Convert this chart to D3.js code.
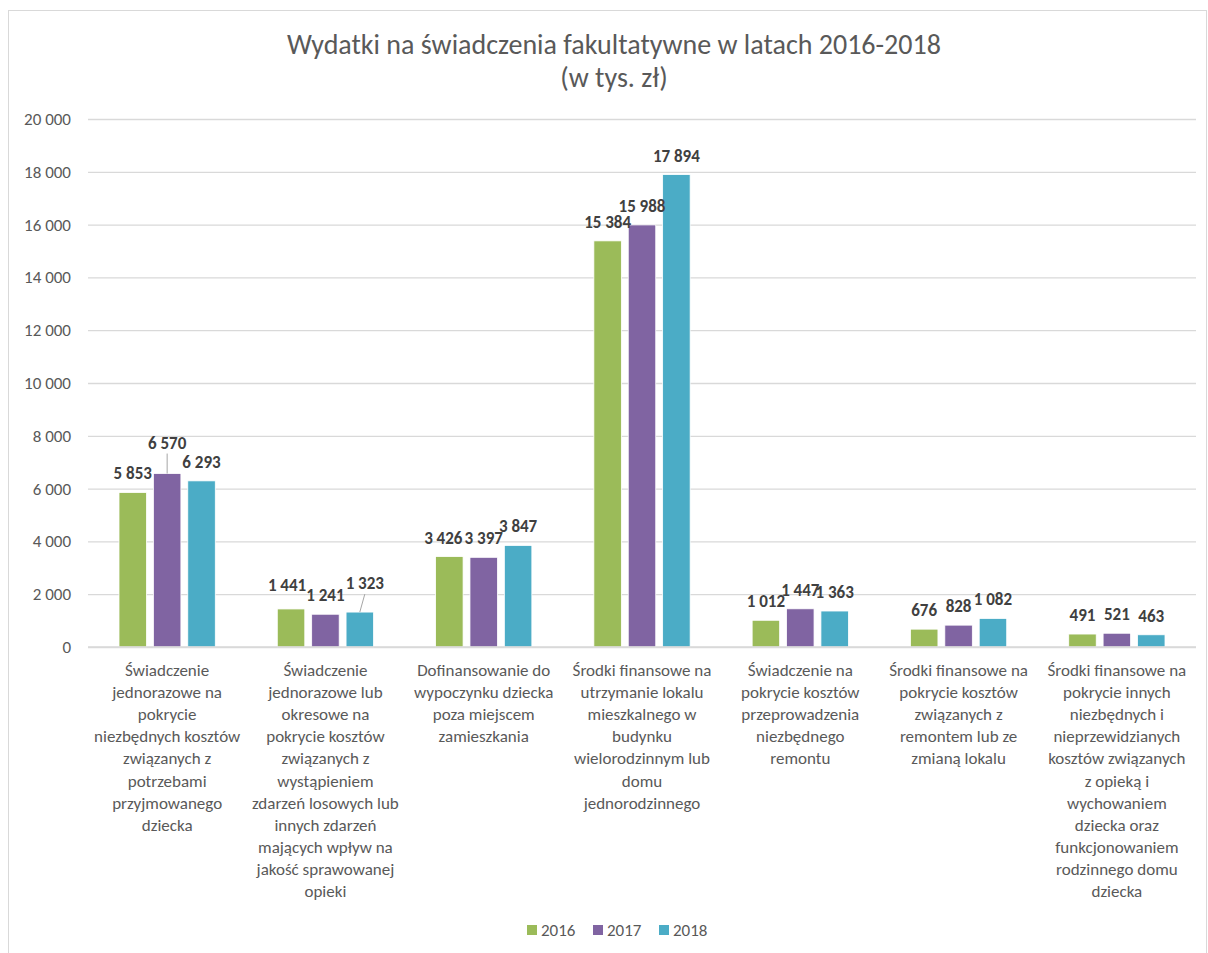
<!DOCTYPE html>
<html>
<head>
<meta charset="utf-8">
<script src="https://cdn.jsdelivr.net/npm/d3@7"></script>
<style>
  body { margin: 0; background: #fff; }
  svg { font-family: Carlito, Calibri, Lato, sans-serif; }
</style>
</head>
<body>
<div id="chart"></div>
<script>
// dane
var years = ["2016", "2017", "2018"];
var categories = [
  ["Świadczenie", "jednorazowe na", "pokrycie", "niezbędnych kosztów", "związanych z", "potrzebami", "przyjmowanego", "dziecka"],
  ["Świadczenie", "jednorazowe lub", "okresowe na", "pokrycie kosztów", "związanych z", "wystąpieniem", "zdarzeń losowych lub", "innych zdarzeń", "mających wpływ na", "jakość sprawowanej", "opieki"],
  ["Dofinansowanie do", "wypoczynku dziecka", "poza miejscem", "zamieszkania"],
  ["Środki finansowe na", "utrzymanie lokalu", "mieszkalnego w", "budynku", "wielorodzinnym lub", "domu", "jednorodzinnego"],
  ["Świadczenie na", "pokrycie kosztów", "przeprowadzenia", "niezbędnego", "remontu"],
  ["Środki finansowe na", "pokrycie kosztów", "związanych z", "remontem lub ze", "zmianą lokalu"],
  ["Środki finansowe na", "pokrycie innych", "niezbędnych i", "nieprzewidzianych", "kosztów związanych", "z opieką i", "wychowaniem", "dziecka oraz", "funkcjonowaniem", "rodzinnego domu", "dziecka"]
];
var values2016 = [5853, 1441, 3426, 15384, 1012, 676, 491];
var values2017 = [6570, 1241, 3397, 15988, 1447, 828, 521];
var values2018 = [6293, 1323, 3847, 17894, 1363, 1082, 463];
var yTicks = [0, 2000, 4000, 6000, 8000, 10000, 12000, 14000, 16000, 18000, 20000];

var colors = ["#9bbb59", "#8064a2", "#4bacc6"];

var width = 1208, height = 953;
var plotLeft = 88, plotRight = 1196, plotTop = 119, plotBottom = 647;

var svg = d3.select("#chart").append("svg")
    .attr("width", width)
    .attr("height", height);

// ramka
svg.append("rect")
    .attr("x", 8.5).attr("y", 10.5)
    .attr("width", 1198).attr("height", 950)
    .attr("fill", "none").attr("stroke", "#d9d9d9");

// tytul
svg.append("text")
    .attr("x", 614).attr("y", 54)
    .attr("text-anchor", "middle")
    .attr("font-size", "28px").attr("fill", "#595959")
    .text("Wydatki na świadczenia fakultatywne w latach 2016-2018");
svg.append("text")
    .attr("x", 614).attr("y", 87)
    .attr("text-anchor", "middle")
    .attr("font-size", "28px").attr("fill", "#595959")
    .text("(w tys. zł)");

var series = [values2016, values2017, values2018];
var idx = d3.range(categories.length);

var y = d3.scaleLinear().domain([0, 20000]).range([plotBottom, plotTop]);
var x0 = d3.scaleBand().domain(idx).range([plotLeft, plotRight]);
var x1 = d3.scaleBand().domain(years)
    .range([31, x0.bandwidth() - 31])
    .paddingInner(0.2);

var fmt = function (v) {
  return d3.format(",")(v).replace(/,/g, " ");
};

// siatka
var yAxis = d3.axisLeft(y)
    .tickValues(yTicks)
    .tickSize(-(plotRight - plotLeft))
    .tickPadding(17)
    .tickFormat(fmt);

var gy = svg.append("g")
    .attr("transform", "translate(" + plotLeft + ",0)")
    .call(yAxis);
gy.select(".domain").remove();
gy.selectAll(".tick line").attr("stroke", "#d9d9d9").attr("stroke-width", 1.3);
gy.selectAll(".tick text")
    .attr("fill", "#595959")
    .attr("font-size", "17px")
    .attr("font-family", "Carlito, Calibri, Lato, sans-serif");

// slupki
var groups = svg.append("g").selectAll("g")
    .data(idx)
    .enter().append("g")
    .attr("transform", function (i) { return "translate(" + x0(i) + ",0)"; });

groups.selectAll("rect")
    .data(function (i) {
      return years.map(function (yr, k) { return {year: yr, k: k, value: series[k][i]}; });
    })
    .enter().append("rect")
    .attr("x", function (d) { return x1(d.year); })
    .attr("y", function (d) { return y(d.value); })
    .attr("width", x1.bandwidth())
    .attr("height", function (d) { return plotBottom - y(d.value); })
    .attr("fill", function (d) { return colors[d.k]; })
    .attr("stroke", "#fff")
    .attr("stroke-width", 0.8);

// etykiety danych (przesuniete recznie jak w oryginale)
var labelShift = {
  "0-1": {dx: 0, dy: -12, leader: true},
  "1-0": {dx: -4, dy: -5},
  "1-2": {dx: 5, dy: -10, leader: true},
  "2-0": {dx: -6, dy: 0}
};

groups.each(function (i) {
  var g = d3.select(this);
  years.forEach(function (yr, k) {
    var v = series[k][i];
    var s = labelShift[i + "-" + k] || {dx: 0, dy: 0};
    var cx = x1(yr) + x1.bandwidth() / 2;
    var ty = y(v) - 13 + s.dy;
    if (s.leader) {
      g.append("line")
          .attr("x1", cx + s.dx).attr("y1", ty + 5)
          .attr("x2", cx).attr("y2", y(v))
          .attr("stroke", "#a6a6a6").attr("stroke-width", 1);
    }
    g.append("text")
        .attr("class", "val")
        .attr("x", cx + s.dx)
        .attr("y", ty)
        .attr("text-anchor", "middle")
        .attr("font-size", "17px")
        .attr("font-weight", "bold")
        .attr("fill", "#404040")
        .text(fmt(v));
  });
});

// os X
svg.append("line")
    .attr("x1", plotLeft).attr("x2", plotRight)
    .attr("y1", plotBottom).attr("y2", plotBottom)
    .attr("stroke", "#d9d9d9").attr("stroke-width", 1.3);

var cat = svg.append("g").selectAll("text")
    .data(idx)
    .enter().append("text")
    .attr("text-anchor", "middle")
    .attr("font-size", "17px")
    .attr("fill", "#595959");

cat.selectAll("tspan")
    .data(function (i) { return categories[i].map(function (t) { return {i: i, t: t}; }); })
    .enter().append("tspan")
    .attr("x", function (d) { return x0(d.i) + x0.bandwidth() / 2; })
    .attr("y", function (d, j) { return 676 + j * 22.1; })
    .text(function (d) { return d.t; });

// legenda
var legend = svg.append("g").selectAll("g")
    .data(years)
    .enter().append("g")
    .attr("transform", function (d, k) { return "translate(" + (527 + k * 66) + ",925)"; });
legend.append("rect")
    .attr("width", 10).attr("height", 10)
    .attr("fill", function (d, k) { return colors[k]; });
legend.append("text")
    .attr("x", 14).attr("y", 11)
    .attr("font-size", "17px")
    .attr("fill", "#595959")
    .text(function (d) { return d; });
</script>
</body>
</html>
